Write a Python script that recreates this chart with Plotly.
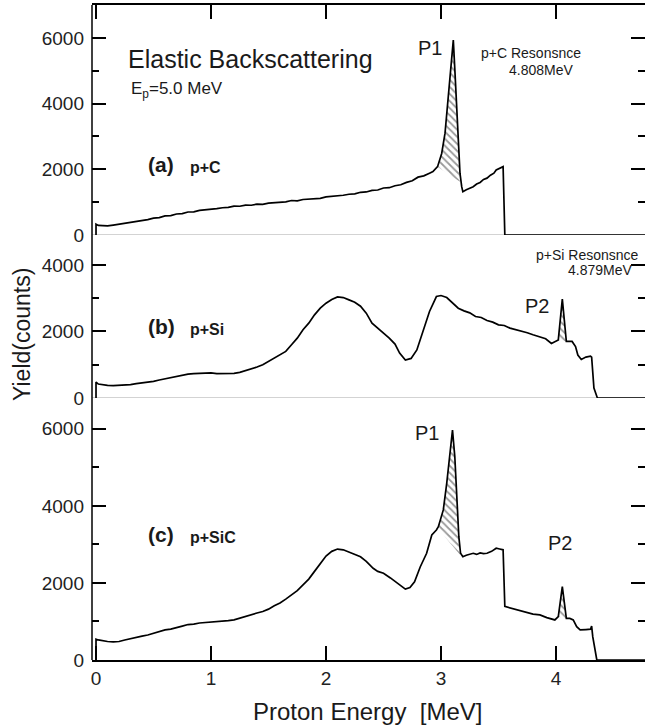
import plotly.graph_objects as go
import numpy as np

# ---------------- data ----------------
# (a) p+C
a_x = [0.0, 0.0, 0.02, 0.05, 0.10, 0.15, 0.20, 0.25, 0.30, 0.35, 0.40, 0.45, 0.50, 0.55, 0.60,
       0.65, 0.70, 0.75, 0.80, 0.85, 0.90, 0.95, 1.00, 1.05, 1.10, 1.15, 1.20, 1.25, 1.30, 1.35,
       1.40, 1.45, 1.50, 1.55, 1.60, 1.65, 1.70, 1.75, 1.80, 1.85, 1.90, 1.95, 2.00, 2.05, 2.10,
       2.15, 2.20, 2.25, 2.30, 2.35, 2.40, 2.45, 2.50, 2.55, 2.60, 2.65, 2.70, 2.75, 2.80, 2.85,
       2.90, 2.93, 2.97, 3.006, 3.035, 3.064, 3.087, 3.107, 3.122, 3.145, 3.165, 3.18, 3.19, 3.22,
       3.25, 3.28, 3.31, 3.34, 3.37, 3.40, 3.43, 3.46, 3.48, 3.51, 3.54, 3.555, 4.80]
a_y = [0, 330, 290, 280, 275, 300, 330, 345, 390, 400, 445, 470, 515, 530, 580,
       590, 640, 650, 700, 705, 750, 760, 790, 800, 830, 840, 880, 875, 910, 905,
       940, 935, 970, 980, 1000, 1010, 1050, 1040, 1080, 1090, 1120, 1115, 1160, 1170, 1200,
       1210, 1240, 1250, 1300, 1310, 1360, 1370, 1430, 1440, 1500, 1530, 1600, 1650, 1760, 1800,
       1880, 1930, 2080, 2480, 3100, 4200, 5230, 5930, 4920, 3190, 1880, 1470, 1320, 1380,
       1430, 1470, 1550, 1600, 1690, 1730, 1820, 1880, 1980, 2020, 2080, 0, 0]

# (b) p+Si
b_x = [0.0, 0.0, 0.02, 0.05, 0.10, 0.15, 0.20, 0.25, 0.30, 0.35, 0.40, 0.45, 0.50, 0.55, 0.60,
       0.65, 0.70, 0.75, 0.80, 0.85, 0.90, 0.95, 1.00, 1.05, 1.10, 1.15, 1.20, 1.25, 1.30, 1.35,
       1.40, 1.45, 1.50, 1.55, 1.60, 1.65, 1.70, 1.75, 1.80, 1.85, 1.90, 1.95, 2.00, 2.05, 2.10,
       2.15, 2.20, 2.25, 2.30, 2.35, 2.40, 2.45, 2.50, 2.55, 2.60, 2.64, 2.69, 2.74, 2.79, 2.85,
       2.90, 2.96, 3.00, 3.05, 3.10, 3.15, 3.20, 3.25, 3.30, 3.35, 3.40, 3.45, 3.50, 3.55, 3.60,
       3.65, 3.70, 3.75, 3.80, 3.86, 3.91, 3.96, 4.02, 4.055, 4.09, 4.14, 4.17, 4.19, 4.22, 4.26,
       4.30, 4.31, 4.33, 4.36, 4.80]
b_y = [0, 480, 420, 400, 380, 370, 375, 390, 400, 430, 450, 480, 500, 540, 580,
       620, 650, 690, 720, 730, 745, 740, 755, 735, 730, 745, 740, 770, 820, 860,
       930, 1000, 1100, 1180, 1300, 1400, 1600, 1800, 2050, 2250, 2500, 2700, 2850, 2960, 3040,
       3020, 2950, 2880, 2760, 2550, 2250, 2100, 1950, 1800, 1620, 1350, 1140, 1190, 1445, 2045,
       2600, 3050, 3080, 3020, 2850, 2700, 2620, 2560, 2450, 2420, 2330, 2280, 2200, 2180, 2100,
       2060, 2000, 1960, 1900, 1845, 1780, 1640, 1745, 2970, 1700, 1700, 1545, 1290, 1160, 1230,
       1260, 1230, 300, 0, 0]

# (c) p+SiC
c_x = [0.0, 0.0, 0.02, 0.05, 0.10, 0.15, 0.20, 0.25, 0.30, 0.35, 0.40, 0.45, 0.50, 0.55, 0.60,
       0.65, 0.70, 0.75, 0.80, 0.85, 0.90, 0.95, 1.00, 1.05, 1.10, 1.15, 1.20, 1.25, 1.30, 1.35,
       1.40, 1.45, 1.50, 1.55, 1.60, 1.65, 1.70, 1.75, 1.80, 1.85, 1.90, 1.95, 2.00, 2.05, 2.10,
       2.15, 2.20, 2.25, 2.30, 2.35, 2.41, 2.45, 2.50, 2.56, 2.63, 2.69, 2.73, 2.77, 2.82, 2.875,
       2.92, 2.96, 2.977, 3.02, 3.05, 3.08, 3.10, 3.12, 3.14, 3.155, 3.17, 3.19, 3.22, 3.25, 3.28,
       3.31, 3.34, 3.37, 3.40, 3.44, 3.48, 3.51, 3.54, 3.555, 3.60, 3.65, 3.70, 3.75, 3.80, 3.86,
       3.92, 3.99, 4.02, 4.055, 4.09, 4.12, 4.15, 4.18, 4.21, 4.26, 4.30, 4.31, 4.32, 4.355, 4.80]
c_y = [0, 540, 520, 500, 480, 470, 480, 520, 560, 580, 620, 650, 700, 730, 780,
       800, 850, 880, 920, 930, 960, 970, 980, 990, 1000, 1020, 1040, 1090, 1130, 1170,
       1220, 1260, 1320, 1410, 1480, 1580, 1680, 1800, 1950, 2100, 2300, 2510, 2700, 2820, 2880,
       2860, 2800, 2760, 2680, 2560, 2380, 2300, 2250, 2130, 1980, 1840, 1880, 2030, 2420, 2770,
       3245, 3375, 3460, 3895, 4590, 5370, 5970, 5280, 4070, 3200, 2770, 2680, 2720, 2750, 2770,
       2740, 2780, 2760, 2770, 2820, 2900, 2880, 2860, 1390, 1350, 1310, 1280, 1230, 1190, 1170,
       1100, 1040, 1125, 1905, 1080, 1080, 1040, 865, 780, 790, 800, 880, 600, 0, 0]

# hatched resonance peaks: (panel, x_start, x_end, baseline_y_start, baseline_y_end)
peaks = [
    ("a", 2.97, 3.165, 2080, 1620),
    ("b", 4.02, 4.09, 1745, 1700),
    ("c", 2.977, 3.165, 3400, 2730),
    ("c", 4.02, 4.09, 1125, 1080),
]

x_ticks = [0, 1, 2, 3, 4]
y_ticks_a = [0, 2000, 4000, 6000]
y_ticks_b = [0, 2000, 4000]
y_ticks_c = [0, 2000, 4000, 6000]

# ---------------- figure ----------------
W, H = 645, 727
ML, MR, MT, MB = 92, 0, 5, 67
PW, PH = W - ML - MR, H - MT - MB


def px(xp):
    return (xp - ML) / PW


def py(yp):
    return (H - MB - yp) / PH


series = {"a": (a_x, a_y, "x", "y"), "b": (b_x, b_y, "x2", "y2"), "c": (c_x, c_y, "x3", "y3")}

fig = go.Figure()

# hatched regions
for name, xs, xe, bs, be in peaks:
    X, Y, xr, yr = series[name]
    X = np.array(X, float)
    Y = np.array(Y, float)
    m = (X > xs) & (X < xe)
    top_x = [xs] + list(X[m]) + [xe]
    top_y = [float(np.interp(xs, X, Y))] + list(Y[m]) + [float(np.interp(xe, X, Y))]
    poly_x = top_x + [xe, xs]
    poly_y = top_y + [be, bs]
    fig.add_trace(go.Scatter(
        x=poly_x, y=poly_y, xaxis=xr, yaxis=yr, mode="lines", line=dict(width=0),
        fill="toself", fillcolor="rgba(255,255,255,0)",
        fillpattern=dict(shape="\\", fgcolor="#333333", bgcolor="rgba(255,255,255,0)",
                         size=5, solidity=0.35),
        hoverinfo="skip", showlegend=False))

for name, (X, Y, xr, yr) in series.items():
    fig.add_trace(go.Scatter(x=X, y=Y, xaxis=xr, yaxis=yr, mode="lines",
                             line=dict(color="black", width=1.7), showlegend=False))

d_c = [0, py(398)]
d_b = [py(398), py(235)]
d_a = [py(235), 1]

xrng = [-0.035, 4.774]
tickfont = dict(family="Liberation Sans, Arial", size=19, color="#222222")

common_x = dict(range=xrng, tickvals=x_ticks, ticks="inside", ticklen=14, tickwidth=1.5,
                tickcolor="black", showgrid=False, zeroline=False)
common_y = dict(ticks="inside", ticklen=14, tickwidth=1.5, tickcolor="black", showgrid=False,
                zeroline=False, showline=False, mirror="ticks", tickfont=tickfont,
                ticklabelstandoff=7,
                minor=dict(ticks="inside", ticklen=7, tickwidth=1.5, tickcolor="black", dtick=1000))

fig.update_layout(
    width=W, height=H, margin=dict(l=ML, r=MR, t=MT, b=MB),
    paper_bgcolor="white", plot_bgcolor="white",
    xaxis=dict(domain=[0, 1], anchor="y", side="top", showticklabels=False, showline=True,
               linecolor="black", linewidth=1.5, **common_x),
    xaxis2=dict(domain=[0, 1], anchor="y2", showticklabels=False, showline=False,
                range=xrng, ticks="", showgrid=False, zeroline=False),
    xaxis3=dict(domain=[0, 1], anchor="y3", showticklabels=True, showline=True,
                linecolor="black", linewidth=1.5, tickfont=tickfont, **common_x),
    yaxis=dict(domain=d_a, anchor="x", range=[0, 7000], tickvals=y_ticks_a, **common_y),
    yaxis2=dict(domain=d_b, anchor="x2", range=[0, 4900], tickvals=y_ticks_b, **common_y),
    yaxis3=dict(domain=d_c, anchor="x3", range=[0, 6800], tickvals=y_ticks_c, **common_y),
)

# frame pieces: left axis line, grey separators
fig.add_shape(type="line", xref="paper", yref="paper", x0=0, x1=0, y0=0, y1=1,
              line=dict(color="black", width=1.5))
for yref in ["y", "y2"]:
    fig.add_shape(type="line", xref="paper", yref=yref, x0=0, x1=1, y0=0, y1=0,
                  line=dict(color="#c4c4c4", width=1.5), layer="below")

font_main = "Liberation Sans, Arial"


def ann(text, xp_, yp_, size, anchor="left", bold=False, angle=0):
    fig.add_annotation(text=f"<b>{text}</b>" if bold else text, xref="paper", yref="paper",
                       x=px(xp_), y=py(yp_), xanchor=anchor, yanchor="middle",
                       showarrow=False, textangle=angle,
                       font=dict(family=font_main, size=size, color="#1a1a1a"))


ann("Elastic Backscattering", 126, 59, 25)
ann("E<sub>p</sub>=5.0 MeV", 129, 90, 17)
ann("(a)", 146, 165, 21, bold=True)
ann("p+C", 188, 168, 16, bold=True)
ann("(b)", 146, 326, 21, bold=True)
ann("p+Si", 188, 329, 16, bold=True)
ann("(c)", 146, 534, 21, bold=True)
ann("p+SiC", 188, 537, 16, bold=True)
ann("P1", 430, 48, 20, anchor="center")
ann("p+C Resonsnce", 479, 53, 14)
ann("4.808MeV", 507, 70, 14)
ann("p+Si Resonsnce", 534, 255, 14)
ann("4.879MeV", 566, 270, 14)
ann("P2", 537, 306, 20, anchor="center")
ann("P1", 427, 433, 20, anchor="center")
ann("P2", 560, 543, 20, anchor="center")
ann("Yield(counts)", 22, 335, 23, anchor="center", angle=-90)
ann("Proton Energy \u00a0[MeV]", 367, 711, 24, anchor="center")

fig.write_html("out.html", config={"displayModeBar": False},
               post_script="document.body.style.margin='0';document.body.style.overflow='hidden';")
